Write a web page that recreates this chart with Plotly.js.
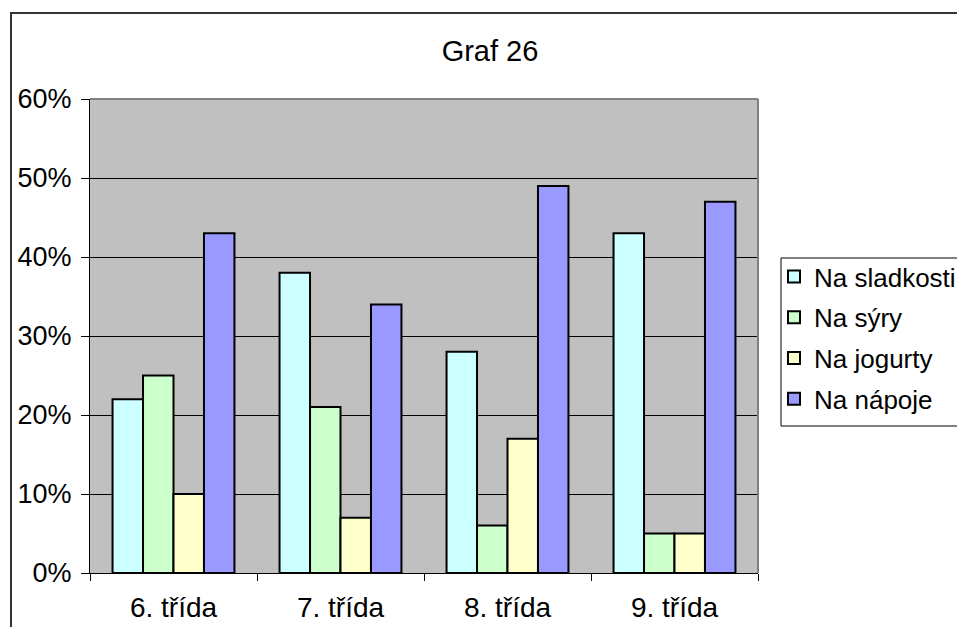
<!DOCTYPE html>
<html>
<head>
<meta charset="utf-8">
<script src="https://cdn.plot.ly/plotly-3.0.1.min.js"></script>
<style>
  html, body { margin: 0; padding: 0; background: #ffffff; }
  #chart { width: 957px; height: 627px; }
</style>
</head>
<body>
<div id="chart"></div>
<script>
// Categories (school years) and the share of answers per option, in percent
const categories = ['6. třída', '7. třída', '8. třída', '9. třída'];
const seriesNames = ['Na sladkosti', 'Na sýry', 'Na jogurty', 'Na nápoje'];
const sladkosti = [22, 38, 28, 43];
const syry = [25, 21, 6, 5];
const jogurty = [10, 7, 17, 5];
const napoje = [43, 34, 49, 47];
const yTicks = [0, 10, 20, 30, 40, 50, 60];
const yTickLabels = ['0%', '10%', '20%', '30%', '40%', '50%', '60%'];

const seriesValues = [sladkosti, syry, jogurty, napoje];
const seriesColors = ['#CCFFFF', '#CCFFCC', '#FFFFCC', '#9999FF'];

// Plot-area geometry in pixels
const W = 957, H = 627;
const L = 90, R = 758, T = 99, B = 573;
const pw = R - L, ph = B - T;
const px = x => (x - L) / pw;          // pixel x -> paper x
const py = y => (B - y) / ph;          // pixel y -> paper y

const FONT = 'Liberation Sans, Arial, sans-serif';

const traces = seriesValues.map((vals, i) => ({
  type: 'bar',
  name: seriesNames[i],
  x: categories,
  y: vals,
  legendgroup: 'g' + i,
  marker: { color: seriesColors[i], line: { color: '#000000', width: 2 } },
  hoverinfo: 'skip'
}));

const layout = {
  width: W,
  height: H,
  margin: { l: L, r: W - R, t: T, b: H - B, autoexpand: false },
  paper_bgcolor: '#ffffff',
  plot_bgcolor: '#C0C0C0',
  barmode: 'group',
  bargap: 0.27,
  bargroupgap: 0,
  font: { family: FONT, color: '#000000' },
  title: {
    text: 'Graf 26',
    font: { family: FONT, size: 29, color: '#000000' },
    xref: 'paper', x: px(490), xanchor: 'center',
    yref: 'container', y: 1 - 51 / H, yanchor: 'middle'
  },
  xaxis: {
    type: 'category',
    range: [-0.5, 3.5],
    showline: true, linecolor: '#000000', linewidth: 1,
    ticks: 'outside', tickson: 'boundaries', ticklen: 7, tickcolor: '#000000', tickwidth: 1,
    ticklabelstandoff: 9,
    showgrid: false,
    tickfont: { family: FONT, size: 28, color: '#000000' },
    fixedrange: true
  },
  yaxis: {
    range: [0, 60],
    tickvals: yTicks,
    ticktext: yTickLabels,
    showline: true, linecolor: '#000000', linewidth: 1,
    ticks: 'outside', ticklen: 8, tickcolor: '#000000', tickwidth: 1,
    ticklabelstandoff: 4,
    showgrid: true, gridcolor: '#000000', gridwidth: 1,
    zeroline: false,
    tickfont: { family: FONT, size: 27, color: '#000000' },
    fixedrange: true
  },
  legend: {
    x: px(774), xanchor: 'left',
    y: py(253), yanchor: 'top',
    bgcolor: 'rgba(0,0,0,0)',
    borderwidth: 0,
    font: { family: FONT, size: 26, color: '#000000' },
    tracegroupgap: 4,
    itemclick: false, itemdoubleclick: false
  },
  shapes: [
    // outer chart frame
    { type: 'rect', xref: 'paper', yref: 'paper',
      x0: px(11), x1: px(1000), y0: py(700), y1: py(13),
      line: { color: '#333333', width: 2 }, fillcolor: 'rgba(0,0,0,0)', layer: 'below' },
    // legend frame
    { type: 'rect', xref: 'paper', yref: 'paper',
      x0: px(781), x1: px(1000), y0: py(426), y1: py(258),
      line: { color: '#000000', width: 1 }, fillcolor: 'rgba(0,0,0,0)', layer: 'above' },
    // grey plot-area edges (top and right)
    { type: 'line', xref: 'paper', yref: 'paper', x0: 0, x1: 1, y0: 1, y1: 1,
      line: { color: '#808080', width: 2 }, layer: 'above' },
    { type: 'line', xref: 'paper', yref: 'paper', x0: 1, x1: 1, y0: 0, y1: 1,
      line: { color: '#808080', width: 2 }, layer: 'above' }
  ],
  showlegend: true
};

Plotly.newPlot('chart', traces, layout, { displayModeBar: false, staticPlot: true });
</script>
</body>
</html>
